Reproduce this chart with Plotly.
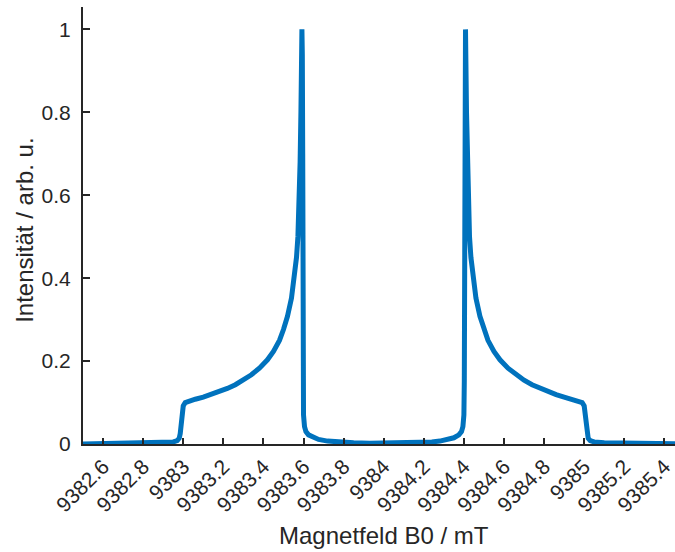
import plotly.graph_objects as go

# Field axis (mT) and normalized intensity of the simulated spectrum
field_mT = [
    9382.50, 9382.60, 9382.70, 9382.80, 9382.90, 9382.95, 9382.97, 9382.98,
    9382.985, 9382.99, 9382.995, 9383.00, 9383.01, 9383.03, 9383.06, 9383.10,
    9383.14, 9383.18, 9383.22, 9383.26, 9383.30, 9383.34, 9383.38, 9383.42,
    9383.45, 9383.48, 9383.50, 9383.52, 9383.54, 9383.555, 9383.565, 9383.572,
    9383.578, 9383.583, 9383.587, 9383.590, 9383.592, 9383.594, 9383.596,
    9383.597, 9383.598, 9383.600, 9383.605, 9383.612, 9383.625, 9383.65,
    9383.675, 9383.72, 9383.76, 9383.85, 9383.93, 9384.00,
    9384.07, 9384.15, 9384.24, 9384.28, 9384.325, 9384.35, 9384.375, 9384.388,
    9384.395, 9384.400, 9384.402, 9384.403, 9384.404, 9384.406, 9384.408,
    9384.410, 9384.413, 9384.417, 9384.422, 9384.428, 9384.435, 9384.445,
    9384.46, 9384.48, 9384.50, 9384.52, 9384.55, 9384.58, 9384.62, 9384.66,
    9384.70, 9384.74, 9384.78, 9384.82, 9384.86, 9384.90, 9384.94, 9384.97,
    9384.99, 9385.00, 9385.005, 9385.01, 9385.015, 9385.02, 9385.03, 9385.05,
    9385.10, 9385.20, 9385.30, 9385.40, 9385.50,
]
intensity = [
    0.000, 0.001, 0.001, 0.002, 0.003, 0.005, 0.008, 0.014,
    0.025, 0.045, 0.075, 0.092, 0.100, 0.104, 0.108, 0.113,
    0.119, 0.126, 0.134, 0.143, 0.154, 0.167, 0.183, 0.203,
    0.223, 0.250, 0.276, 0.308, 0.352, 0.400, 0.450, 0.500,
    0.570, 0.680, 0.800, 0.920, 1.000, 0.940, 0.700,
    0.400, 0.150, 0.070, 0.042, 0.030, 0.022, 0.015,
    0.011, 0.007, 0.005, 0.003, 0.002, 0.002,
    0.002, 0.003, 0.005, 0.007, 0.011, 0.015, 0.022, 0.030,
    0.042, 0.070, 0.150, 0.400, 0.700, 0.940, 1.000,
    0.920, 0.800, 0.680, 0.570, 0.500, 0.450, 0.400,
    0.352, 0.308, 0.276, 0.250, 0.223, 0.203, 0.183, 0.167,
    0.154, 0.143, 0.134, 0.126, 0.119, 0.113, 0.108, 0.104,
    0.100, 0.092, 0.075, 0.045, 0.025, 0.014, 0.008, 0.005,
    0.003, 0.002, 0.001, 0.001, 0.000,
]

x_tick_values = [9382.6, 9382.8, 9383.0, 9383.2, 9383.4, 9383.6, 9383.8, 9384.0,
                 9384.2, 9384.4, 9384.6, 9384.8, 9385.0, 9385.2, 9385.4]
x_tick_labels = ["9382.6", "9382.8", "9383", "9383.2", "9383.4", "9383.6", "9383.8",
                 "9384", "9384.2", "9384.4", "9384.6", "9384.8", "9385", "9385.2", "9385.4"]
y_tick_values = [0, 0.2, 0.4, 0.6, 0.8, 1.0]
y_tick_labels = ["0", "0.2", "0.4", "0.6", "0.8", "1"]

x_title = "Magnetfeld B0 / mT"
y_title = "Intensität / arb. u."

AX = "#262626"
FONT = "Liberation Sans, Arial, Helvetica, sans-serif"

fig = go.Figure()
fig.add_trace(go.Scatter(
    x=field_mT, y=intensity, mode="lines",
    line=dict(color="#0072BD", width=5),
    showlegend=False, hoverinfo="skip",
))

fig.update_layout(
    width=675, height=552,
    margin=dict(l=83, r=0, t=7, b=108),
    paper_bgcolor="white", plot_bgcolor="white",
    font=dict(family=FONT, color=AX, size=21),
    xaxis=dict(
        range=[9382.5, 9385.453], showgrid=False, zeroline=False,
        showline=True, linecolor=AX, linewidth=2,
        ticks="inside", ticklen=6.5, tickwidth=1.5, tickcolor=AX,
        tickvals=x_tick_values, ticktext=x_tick_labels, tickangle=-45,
        tickfont=dict(family=FONT, size=21, color=AX),
    ),
    yaxis=dict(
        range=[0, 1.054], showgrid=False, zeroline=False,
        showline=True, linecolor=AX, linewidth=2,
        ticks="inside", ticklen=6.5, tickwidth=1.5, tickcolor=AX,
        tickvals=y_tick_values, ticktext=y_tick_labels,
        ticklabelstandoff=6,
        tickfont=dict(family=FONT, size=21, color=AX),
    ),
    annotations=[
        dict(text=x_title, xref="x", yref="paper", x=9384.0, y=-0.21,
             xanchor="center", yanchor="middle", showarrow=False,
             font=dict(family=FONT, size=24, color=AX)),
        dict(text=y_title, xref="paper", yref="paper", x=-0.098, y=0.49,
             xanchor="center", yanchor="middle", textangle=-90, showarrow=False,
             font=dict(family=FONT, size=24, color=AX)),
    ],
)

fig.write_html("out.html")
